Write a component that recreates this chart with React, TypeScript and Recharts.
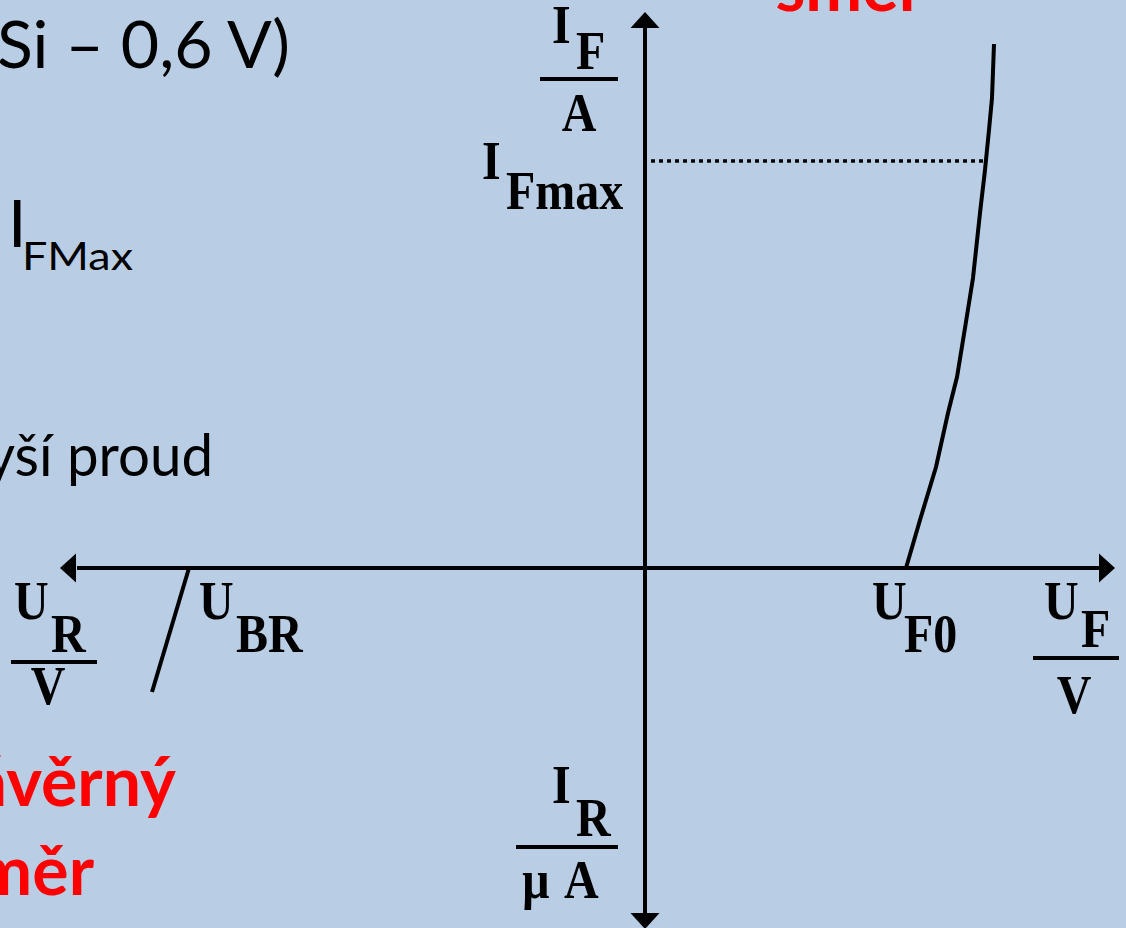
import React from "react";
import {
  LineChart,
  Line,
  XAxis,
  YAxis,
  ReferenceLine,
  ReferenceDot,
  Customized,
} from "recharts";

// schematic units: U along x, I along y (no real scale on the slide)
const forwardU = [26.1, 27.5, 29.1, 30.3, 31.2, 32.0, 32.8, 33.5, 34.0, 34.4, 34.7, 34.9];
const forwardI = [0, 4.8, 10.1, 15.5, 19.1, 24.0, 29.0, 35.5, 39.8, 43.8, 47.0, 52.4];
const breakdownU = [-45.6, -49.3];
const breakdownI = [0, -12.4];
const iFmax = 40.7;
const iFmaxU = 33.9;

const X_DOMAIN: [number, number] = [-64.5, 48.1];
const Y_DOMAIN: [number, number] = [-36, 56.8];

const W = 1126;
const H = 928;
const BG = "#B9CDE4";

const forward = forwardU.map((u, k) => ({ u, i: forwardI[k] }));
const breakdown = breakdownU.map((u, k) => ({ u, i: breakdownI[k] }));

const arrow =
  (dir: "up" | "down" | "left" | "right") =>
  (props: any) => {
    const { cx, cy } = props;
    const len = 16;
    const hw = 14.5;
    let pts = "";
    if (dir === "up") pts = `${cx},${cy} ${cx - hw},${cy + len} ${cx + hw},${cy + len}`;
    if (dir === "down") pts = `${cx},${cy} ${cx - hw},${cy - len} ${cx + hw},${cy - len}`;
    if (dir === "left") pts = `${cx},${cy} ${cx + len},${cy - hw} ${cx + len},${cy + hw}`;
    if (dir === "right") pts = `${cx},${cy} ${cx - len},${cy - hw} ${cx - len},${cy + hw}`;
    return <polygon points={pts} fill="#000" />;
  };

// bitmap-ish serif labels of the original figure
const S = ({ x, y, anchor = "start", children }: any) => (
  <text
    transform={`translate(${x} ${y}) scale(1 1.15)`}
    fontFamily="'Liberation Serif', serif"
    fontWeight="bold"
    fontSize={48}
    textAnchor={anchor}
    fill="#000"
  >
    {children}
  </text>
);

const Bar = ({ x1, x2, y }: any) => (
  <line x1={x1} x2={x2} y1={y} y2={y} stroke="#000" strokeWidth={4} />
);

const sans = "Lato, 'Noto Sans', sans-serif";

function Labels() {
  return (
    <g>
      {/* slide text cut by the picture edge */}
      <text x={-3} y={68} fontFamily={sans} fontSize={66} textLength={293} lengthAdjust="spacingAndGlyphs" fill="#000">
        Si – 0,6 V)
      </text>
      <text x={8} y={247} fontFamily={sans} fontSize={66} fill="#000">
        I
      </text>
      <text x={22} y={270} fontFamily={sans} fontSize={38} textLength={111} lengthAdjust="spacingAndGlyphs" fill="#000">
        FMax
      </text>
      <text x={-14} y={476} fontFamily={sans} fontSize={58} textLength={227} lengthAdjust="spacingAndGlyphs" fill="#000">
        yší proud
      </text>
      <text x={924} y={11} fontFamily={sans} fontSize={68} fontWeight="bold" textAnchor="end" fill="#FF0000">
        směr
      </text>
      <text x={176} y={806} fontFamily={sans} fontSize={68} fontWeight="bold" textAnchor="end" fill="#FF0000">
        Závěrný
      </text>
      <text x={94} y={895} fontFamily={sans} fontSize={68} fontWeight="bold" textAnchor="end" fill="#FF0000">
        směr
      </text>

      {/* I_F / A */}
      <S x={552} y={43}>I</S>
      <S x={576} y={69}>F</S>
      <Bar x1={540} x2={618} y={79} />
      <S x={579} y={131} anchor="middle">A</S>

      {/* I_Fmax */}
      <S x={482} y={179}>I</S>
      <S x={506} y={209}>Fmax</S>

      {/* U_R / V */}
      <S x={14} y={619}>U</S>
      <S x={51} y={652}>R</S>
      <Bar x1={11} x2={97} y={662} />
      <S x={48} y={704} anchor="middle">V</S>

      {/* U_BR */}
      <S x={199} y={619}>U</S>
      <S x={236} y={652}>BR</S>

      {/* U_F0 */}
      <S x={872} y={619}>U</S>
      <S x={904} y={652}>F0</S>

      {/* U_F / V */}
      <S x={1044} y={619}>U</S>
      <S x={1081} y={647}>F</S>
      <Bar x1={1033} x2={1119} y={658} />
      <S x={1074} y={713} anchor="middle">V</S>

      {/* I_R / µA */}
      <S x={552} y={803}>I</S>
      <S x={576} y={836}>R</S>
      <Bar x1={516} x2={618} y={847} />
      <S x={522} y={898}>µ</S>
      <S x={564} y={898}>A</S>
    </g>
  );
}

export default function App() {
  return (
    <div
      style={{
        position: "absolute",
        left: 0,
        top: 0,
        width: W,
        height: H,
        overflow: "hidden",
        background: BG,
      }}
    >
      <LineChart width={W} height={H} margin={{ top: 0, right: 0, bottom: 0, left: 0 }}>
        <XAxis type="number" dataKey="u" domain={X_DOMAIN} allowDataOverflow hide />
        <YAxis type="number" dataKey="i" domain={Y_DOMAIN} allowDataOverflow hide />

        {/* axes */}
        <ReferenceLine
          segment={[{ x: -56.8, y: 0 }, { x: 45.4, y: 0 }]}
          stroke="#000"
          strokeWidth={4}
          ifOverflow="visible"
        />
        <ReferenceLine
          segment={[{ x: 0, y: -34.6 }, { x: 0, y: 54.2 }]}
          stroke="#000"
          strokeWidth={4}
          ifOverflow="visible"
        />
        <ReferenceDot x={0} y={55.6} r={1} shape={arrow("up")} ifOverflow="visible" />
        <ReferenceDot x={0} y={-36.1} r={1} shape={arrow("down")} ifOverflow="visible" />
        <ReferenceDot x={-58.5} y={0} r={1} shape={arrow("left")} ifOverflow="visible" />
        <ReferenceDot x={47.0} y={0} r={1} shape={arrow("right")} ifOverflow="visible" />

        {/* I_Fmax level */}
        <ReferenceLine
          segment={[{ x: 0.6, y: iFmax }, { x: iFmaxU, y: iFmax }]}
          stroke="#000"
          strokeWidth={3.5}
          strokeDasharray="4 4"
          ifOverflow="visible"
        />

        <Line
          data={forward}
          dataKey="i"
          type="linear"
          stroke="#000"
          strokeWidth={4}
          dot={false}
          activeDot={false}
          isAnimationActive={false}
        />
        <Line
          data={breakdown}
          dataKey="i"
          type="linear"
          stroke="#000"
          strokeWidth={4}
          dot={false}
          activeDot={false}
          isAnimationActive={false}
        />

        <Customized component={<Labels />} />
      </LineChart>
    </div>
  );
}
